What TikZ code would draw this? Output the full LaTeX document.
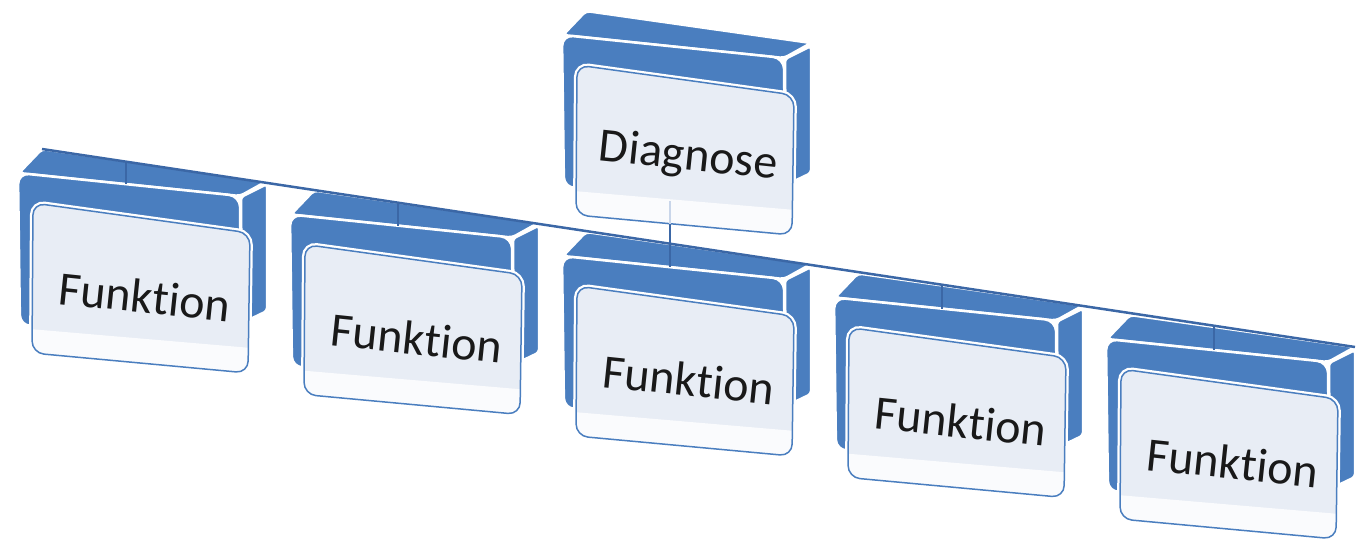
\documentclass[tikz,border=0pt]{standalone}
\usepackage{fontspec}
\setmainfont{Carlito}[Ligatures=NoCommon]
\definecolor{obl}{HTML}{4A7EBF}
\definecolor{odk}{HTML}{3B67A6}
\definecolor{opan}{HTML}{E8EDF5}
\definecolor{olow}{HTML}{FAFBFD}
\definecolor{ofaint}{HTML}{C9D6EA}
\tikzset{
  busline/.style={odk, line width=2.5pt},
  dropline/.style={odk, line width=2pt},
  faintline/.style={ofaint, line width=1.5pt},
  lbl/.style={font=\fontsize{48}{52}\selectfont, text=black!90, rotate=-6, anchor=base, inner sep=0pt},
  orgbox/.pic={
    \filldraw[fill=obl, draw=white, line width=2.5pt, rounded corners=3pt]
      (223,24) -- (249,11) -- (249,138) -- (224,150) -- cycle;
    \filldraw[fill=obl, draw=white, line width=2.5pt, rounded corners=4pt]
      (1,0) -- (24,-24) -- (249,8) -- (222,23) -- cycle;
    \filldraw[fill=obl, draw=white, line width=2.5pt, rounded corners=11pt]
      (0,0) -- (222,23) -- (223,150) -- (2,153) -- cycle;
    \draw[white, line width=6pt, rounded corners=12pt]
      (15,30) -- (232,60) -- (230,200) -- (14,180) -- cycle;
    \fill[opan, rounded corners=12pt]
      (15,30) -- (232,60) -- (230,200) -- (14,180) -- cycle;
    \begin{scope}
      \clip[rounded corners=12pt]
        (15,30) -- (232,60) -- (230,200) -- (14,180) -- cycle;
      \fill[olow] (0,155) -- (245,176) -- (245,220) -- (0,220) -- cycle;
    \end{scope}
    \draw[obl, line width=1.5pt, rounded corners=12pt]
      (15,30) -- (232,60) -- (230,200) -- (14,180) -- cycle;
    \coordinate (-up) at (108,-12);
    \coordinate (-top) at (108,11);
    \coordinate (-bl) at (24,-24);
    \coordinate (-br) at (249,8);
    \coordinate (-bot) at (108,189);
    \coordinate (-mid) at (108,166);
  }
}
\begin{document}
\begin{tikzpicture}[x=1pt, y=-1pt]
  \useasboundingbox (0,0) rectangle (1358,546);
  \pic (d) at (562,35) {orgbox};
  \pic (b1) at (18,173) {orgbox};
  \pic (b2) at (290,214.5) {orgbox};
  \pic (b3) at (562,256) {orgbox};
  \pic (b4) at (834,297.5) {orgbox};
  \pic (b5) at (1106,339) {orgbox};
  \draw[busline] (b1-bl) -- (b5-br);
  \draw[faintline] (d-mid) -- (d-bot);
  \draw[dropline] (d-bot) -- (b3-up);
  \foreach \k in {1,...,5} {\draw[dropline] (b\k-up) -- (b\k-top);}
  \node[lbl] (dg) at (687,170) {Diagnose};
  \node[lbl] (f1) at (143,313) {Funktion};
  \node[lbl] (f2) at (415,354.5) {Funktion};
  \node[lbl] (f3) at (687,396) {Funktion};
  \node[lbl] (f4) at (959,437.5) {Funktion};
  \node[lbl] (f5) at (1231,479) {Funktion};
\end{tikzpicture}
\end{document}
